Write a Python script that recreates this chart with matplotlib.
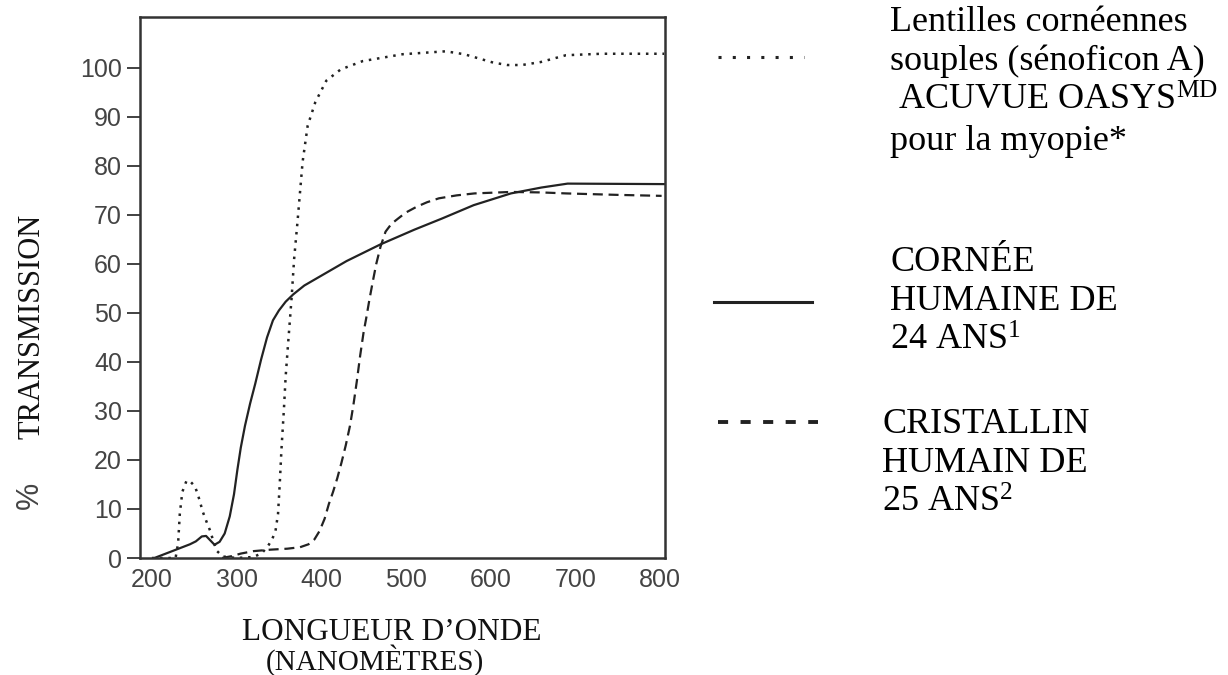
import matplotlib
matplotlib.use("Agg")
import matplotlib.pyplot as plt
from matplotlib.lines import Line2D

# courbes de transmission (nm, %)
lens_nm = [200, 228, 231, 233, 236, 241, 246, 251, 256, 260, 265, 269, 273, 277, 284,
           300, 320, 330, 337, 342, 346, 349, 351, 353, 356, 358, 361, 365, 368, 372,
           378, 384, 393, 406, 423, 449, 496, 547, 569, 585, 603, 620, 637, 659, 689,
           731, 805]
lens_t = [0, 0, 3, 9, 13.5, 15.8, 15.5, 14.6, 12, 9.5, 7.2, 5.5, 3.2, 1.4, 0.3,
          0, 0.2, 1, 2.4, 3.8, 5.5, 9, 15, 22, 30.5, 37, 44, 53, 61, 68.6,
          80.8, 88.2, 93, 97.4, 99.7, 101.4, 102.8, 103.4, 102.8, 102, 101.1, 100.6, 100.6, 101.2, 102.6,
          102.9, 102.9]

cornea_nm = [203, 215, 230, 245, 252, 259, 264, 269, 274, 280, 286, 292, 297, 301, 305,
             310, 316, 322, 329, 336, 343, 350, 358, 367, 380, 400, 430, 470, 510, 543,
             580, 624, 660, 691, 805]
cornea_t = [0, 0.8, 1.8, 2.8, 3.4, 4.4, 4.5, 3.6, 2.7, 3.3, 5.0, 8.5, 13, 18, 22.5,
            27, 31.5, 35.5, 40.5, 45, 48.5, 50.5, 52.3, 53.8, 55.6, 57.6, 60.6, 64, 67, 69.3,
            72, 74.4, 75.6, 76.4, 76.3]

cryst_nm = [283, 295, 305, 320, 340, 360, 375, 385, 392, 398, 404, 409, 414, 419, 424,
            429, 434, 438, 442, 446, 450, 453, 457, 461, 465, 470, 476, 483, 491, 500,
            513, 525, 539, 560, 581, 624, 660, 689, 750, 802]
cryst_t = [0, 0.4, 0.9, 1.4, 1.7, 1.9, 2.2, 2.8, 3.8, 5.5, 8, 11, 13.5, 16.3, 19.5,
           23, 27, 31.2, 36, 41.3, 46, 48.8, 52.8, 56.5, 60, 63.5, 66.6, 68.2, 69.3, 70.5,
           71.7, 72.6, 73.4, 74, 74.4, 74.7, 74.6, 74.4, 74.1, 73.9]

x_ticks = [200, 300, 400, 500, 600, 700, 800]
y_ticks = [0, 10, 20, 30, 40, 50, 60, 70, 80, 90, 100]

plt.rcParams['mathtext.fontset'] = 'custom'
plt.rcParams['mathtext.rm'] = 'Liberation Serif'
plt.rcParams['mathtext.it'] = 'Liberation Serif:italic'

W, H = 1228, 675
ink = '#222222'
serif = 'Liberation Serif'

fig = plt.figure(figsize=(W / 100, H / 100), dpi=100)
ax = fig.add_axes([140 / W, 1 - 558 / H, (665 - 140) / W, (558 - 17) / H])

ax.plot(lens_nm, lens_t, color=ink, lw=1.8, linestyle=(0, (1, 2.3)))
ax.plot(cornea_nm, cornea_t, color=ink, lw=1.6)
ax.plot(cryst_nm, cryst_t, color=ink, lw=1.6, linestyle=(0, (4.5, 2.6)))

ax.set_xlim(186, 806)
ax.set_ylim(0, 110.4)
ax.set_xticks(x_ticks)
ax.set_yticks(y_ticks)
for s in ax.spines.values():
    s.set_linewidth(1.8)
    s.set_color('#333333')
ax.tick_params(axis='x', length=0, pad=7, labelsize=18, labelcolor='#444444')
ax.tick_params(axis='y', length=9.4, width=1.3, color='#333333', pad=3.6,
               labelsize=18, labelcolor='#444444')
for lab in ax.get_xticklabels() + ax.get_yticklabels():
    lab.set_family('Liberation Sans')

# titres des axes
fig.text(32 / W, 1 - 326 / H, 'TRANSMISSION', rotation=90, ha='center', va='center',
         family=serif, fontsize=22, color='#111111')
fig.text(30 / W, 1 - 495 / H, '%', rotation=90, ha='center', va='center',
         family='Liberation Sans', fontsize=22, color='#444444')
fig.text(392 / W, 1 - 640 / H, 'LONGUEUR D\u2019ONDE', ha='center', va='baseline',
         family=serif, fontsize=22.5, color='#111111')
fig.text(375 / W, 1 - 670 / H, '(NANOM\u00c8TRES)', ha='center', va='baseline',
         family=serif, fontsize=21, color='#111111')

# légende à droite
def sample(x0, x1, y, **kw):
    fig.add_artist(Line2D([x0 / W, x1 / W], [1 - y / H, 1 - y / H],
                          transform=fig.transFigure, color=ink, **kw))

sample(718, 804, 57, lw=2.2, linestyle=(0, (1, 3.67)))
sample(714, 812, 302, lw=2.2)
sample(718, 818, 422, lw=2.8, linestyle=(0, (2.6, 3.2)))

def block(x, y0, lines, step=39.5):
    for i, (dx, txt) in enumerate(lines):
        fig.text((x + dx) / W, 1 - (y0 + i * step) / H, txt, ha='left', va='baseline',
                 family=serif, fontsize=26, color='#000000')

block(890, 31, [(0, 'Lentilles corn\u00e9ennes'),
                (0, 'souples (s\u00e9noficon A)'),
                (8, r'ACUVUE OASYS$^{\mathrm{MD}}$'),
                (0, 'pour la myopie*')])
block(890, 271, [(0, 'CORN\u00c9E'),
                 (0, 'HUMAINE DE'),
                 (0, r'24 ANS$^{1}$')])
block(882, 433, [(0, 'CRISTALLIN'),
                 (0, 'HUMAIN DE'),
                 (0, r'25 ANS$^{2}$')])

fig.savefig('out.png', dpi=100)
